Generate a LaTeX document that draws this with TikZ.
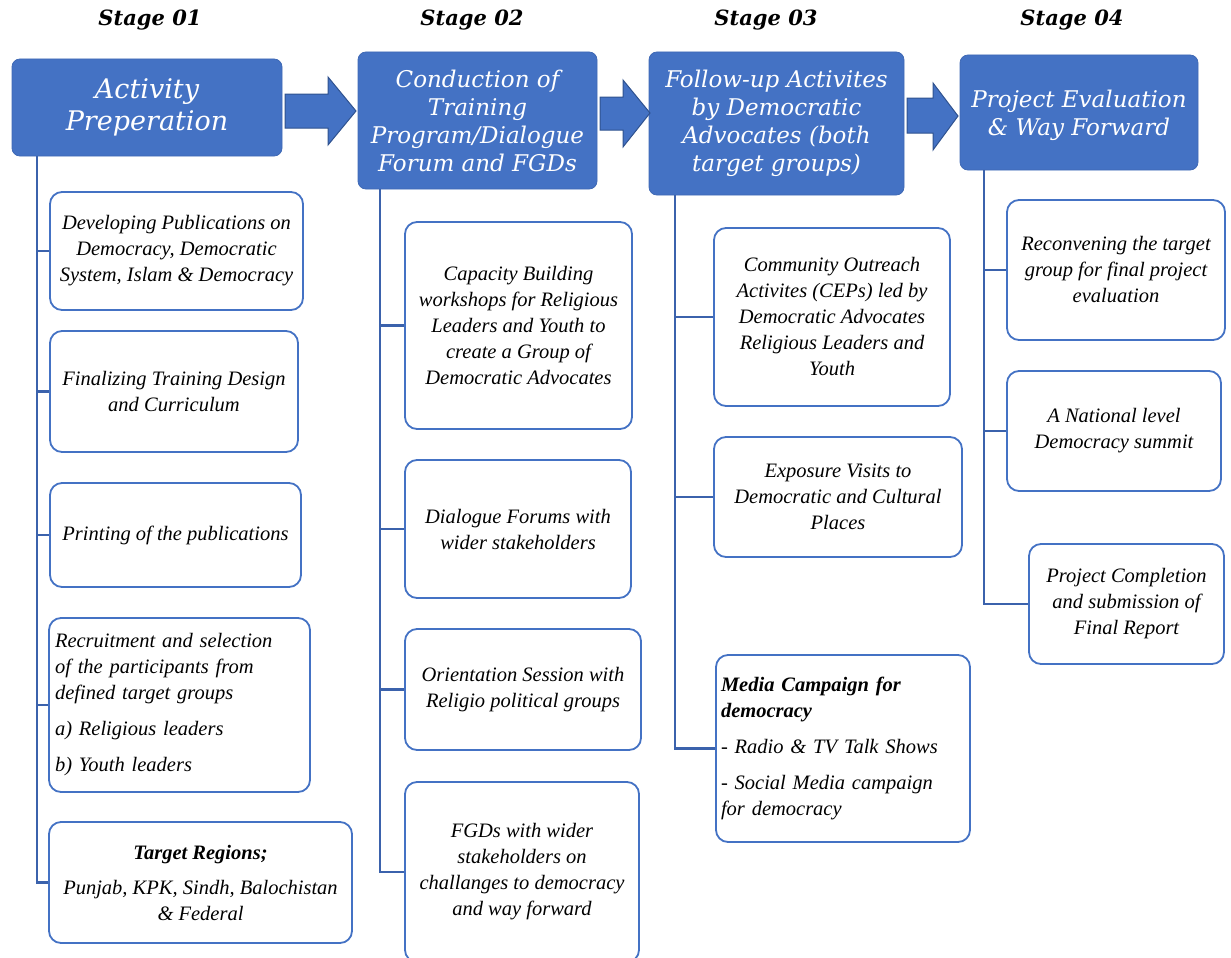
\documentclass[tikz,border=0pt]{standalone}
\usepackage{fontspec}
\setmainfont{Liberation Serif}
\newfontfamily\headfont{DejaVu Serif}
\definecolor{hblue}{HTML}{4472C4}
\definecolor{hedge}{HTML}{3F69B5}
\definecolor{adark}{HTML}{2F528F}
\definecolor{cline}{HTML}{3B62AC}
\begin{document}
\begin{tikzpicture}[x=1pt,y=-1pt,
  stage/.style={font=\headfont\bfseries\itshape\fontsize{21}{24}\selectfont, text=black},
  head/.style={fill=hblue, draw=hedge, line width=0.8pt, rounded corners=8pt, text=white, align=center, inner sep=0pt},
  headtxt/.style={font=\headfont\itshape\fontsize{23}{28}\selectfont},
  box/.style={draw=hblue, line width=1.8pt, rounded corners=12pt, fill=white, align=center, inner sep=0pt,
    font=\itshape\fontsize{20.5}{26}\selectfont},
  conn/.style={draw=cline, line width=2.2pt},
  barrow/.style={fill=hblue, draw=adark, line width=1pt, line join=miter}
]
\useasboundingbox (0,0) rectangle (1231,958);

% stage labels
\node[stage] (s1) at (150,20) {Stage 01};
\node[stage] (s2) at (472,20) {Stage 02};
\node[stage] (s3) at (766,20) {Stage 03};
\node[stage] (s4) at (1072,20) {Stage 04};

% headers
\node[head, minimum width=270pt, minimum height=97pt, font=\headfont\itshape\fontsize{27}{32}\selectfont] (h1) at (147,107.5) {Activity\\Preperation};
\node[head, headtxt, minimum width=239pt, minimum height=137pt] (h2) at (477.5,120.5) {Conduction of\\Training\\Program/Dialogue\\Forum and FGDs};
\node[head, headtxt, minimum width=255pt, minimum height=143pt] (h3) at (776.5,123.5) {Follow-up Activites\\by Democratic\\Advocates (both\\target groups)};
\node[head, headtxt, minimum width=238pt, minimum height=115pt, text depth=0pt] (h4) at (1079,112.5) {Project Evaluation\\\& Way Forward};

% block arrows
\draw[barrow] (285,94) -- (328,94) -- (328,77) -- (356,111) -- (328,145) -- (328,128) -- (285,128) -- cycle;
\draw[barrow] (600,97) -- (623,97) -- (623,80) -- (650,113) -- (623,147) -- (623,130) -- (600,130) -- cycle;
\draw[barrow] (907,98) -- (933,98) -- (933,83) -- (958,116) -- (933,150) -- (933,133) -- (907,133) -- cycle;

% stage 1 boxes
\node[box, minimum width=253pt, minimum height=118pt] (b1) at (176.5,251) {Developing Publications on\\Democracy, Democratic\\System, Islam \& Democracy};
\node[box, minimum width=248pt, minimum height=121pt] (b2) at (174,391.5) {Finalizing Training Design\\and Curriculum};
\node[box, minimum width=251pt, minimum height=104pt] (b3) at (175.5,535) {Printing of the publications};
\node[box, minimum width=261pt, minimum height=174pt, align=left, text width=249pt] (b4) at (179.5,705) {Recruitment and selection\\of the participants from\\defined target groups\\[10pt]a) Religious leaders\\[10pt]b) Youth leaders};
\node[box, minimum width=303pt, minimum height=121pt] (b5) at (200.5,882.5) {\textbf{Target Regions;}\\[9pt]Punjab, KPK, Sindh, Balochistan\\\& Federal};

% stage 2 boxes
\node[box, minimum width=227pt, minimum height=207pt] (c1) at (518.5,325.5) {Capacity Building\\workshops for Religious\\Leaders and Youth to\\create a Group of\\Democratic Advocates};
\node[box, minimum width=226pt, minimum height=138pt] (c2) at (518,529) {Dialogue Forums with\\wider stakeholders};
\node[box, minimum width=236pt, minimum height=121pt] (c3) at (523,689.5) {Orientation Session with\\Religio political groups};
\node[box, minimum width=234pt, minimum height=180pt] (c4) at (522,872) {FGDs with wider\\stakeholders on\\challanges to democracy\\and way forward};

% stage 3 boxes
\node[box, minimum width=236pt, minimum height=178pt] (d1) at (832,317) {Community Outreach\\Activites (CEPs) led by\\Democratic Advocates\\Religious Leaders and\\Youth};
\node[box, minimum width=248pt, minimum height=120pt] (d2) at (838,497) {Exposure Visits to\\Democratic and Cultural\\Places};
\node[box, minimum width=254pt, minimum height=187pt, align=left, text width=244pt] (d3) at (843,748.5) {\textbf{Media Campaign for}\\\textbf{democracy}\\[10pt]- Radio \& TV Talk Shows\\[10pt]- Social Media campaign\\for democracy};

% stage 4 boxes
\node[box, minimum width=218pt, minimum height=140pt] (e1) at (1116,270) {Reconvening the target\\group for final project\\evaluation};
\node[box, minimum width=214pt, minimum height=120pt] (e2) at (1114,431) {A National level\\Democracy summit};
\node[box, minimum width=195pt, minimum height=120pt] (e3) at (1126.5,604) {Project Completion\\and submission of\\Final Report};

% connector trunks
\coordinate (x1) at (37,0);
\coordinate (x2) at (380,0);
\coordinate (x3) at (675,0);
\coordinate (x4) at (984,0);

\draw[conn] (h1.south -| x1) |- (b5.west);
\foreach \b in {b1,b2,b3,b4} \draw[conn] (\b.west -| x1) -- (\b.west);
\draw[conn] (h2.south -| x2) |- (c4.west);
\foreach \b in {c1,c2,c3} \draw[conn] (\b.west -| x2) -- (\b.west);
\draw[conn] (h3.south -| x3) |- (d3.west);
\foreach \b in {d1,d2} \draw[conn] (\b.west -| x3) -- (\b.west);
\draw[conn] (h4.south -| x4) |- (e3.west);
\foreach \b in {e1,e2} \draw[conn] (\b.west -| x4) -- (\b.west);
\end{tikzpicture}
\end{document}
